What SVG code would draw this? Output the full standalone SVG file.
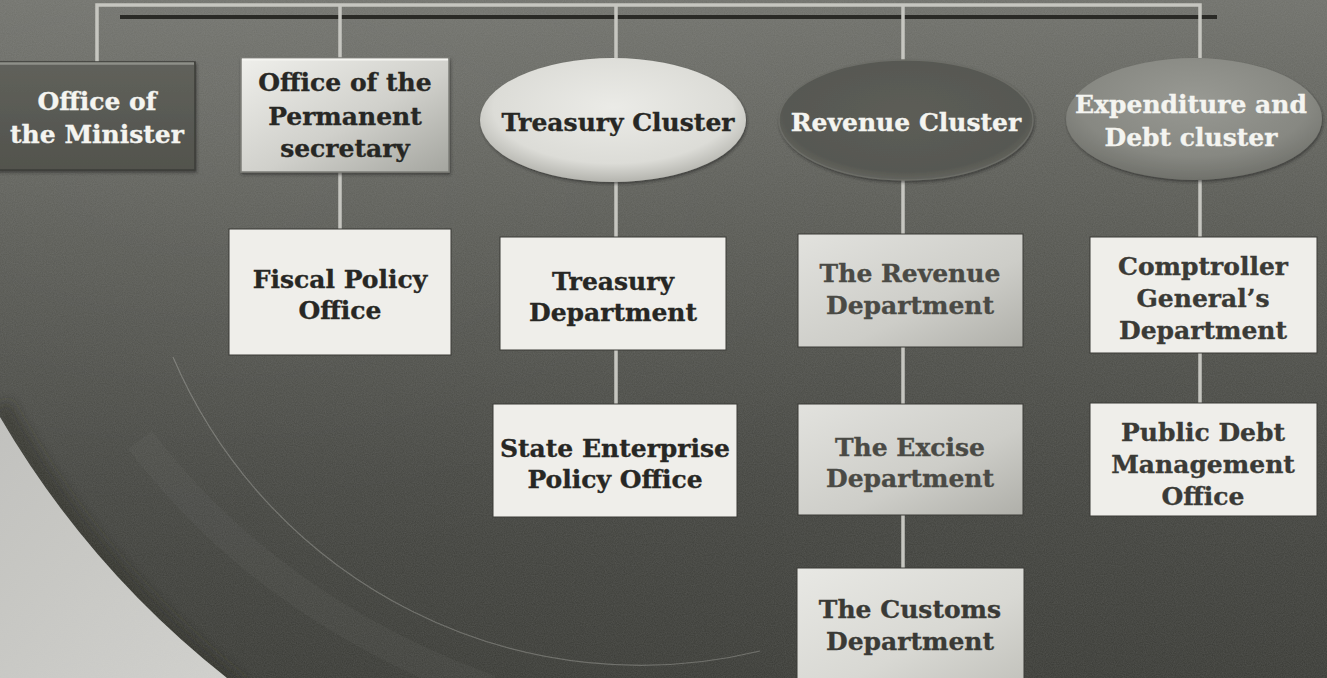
<svg xmlns="http://www.w3.org/2000/svg" width="1327" height="678" viewBox="0 0 1327 678">
  <defs>
    <linearGradient id="bg" x1="0" y1="0" x2="0" y2="1">
      <stop offset="0" stop-color="#6f706a"/>
      <stop offset="0.35" stop-color="#565751"/>
      <stop offset="0.7" stop-color="#43443f"/>
      <stop offset="1" stop-color="#393a35"/>
    </linearGradient>
    <radialGradient id="bgGlow" cx="0.15" cy="0.25" r="0.6">
      <stop offset="0" stop-color="#ffffff" stop-opacity="0.04"/>
      <stop offset="1" stop-color="#ffffff" stop-opacity="0"/>
    </radialGradient>
    <linearGradient id="swoosh" x1="0" y1="0" x2="1" y2="1">
      <stop offset="0" stop-color="#c2c2be"/>
      <stop offset="1" stop-color="#d2d2ce"/>
    </linearGradient>
    <linearGradient id="darkBox" x1="0" y1="0" x2="0" y2="1">
      <stop offset="0" stop-color="#60615b"/>
      <stop offset="1" stop-color="#52534d"/>
    </linearGradient>
    <linearGradient id="lightBevel" x1="0" y1="0" x2="1" y2="1">
      <stop offset="0" stop-color="#efefeb"/>
      <stop offset="0.55" stop-color="#d0d0cb"/>
      <stop offset="1" stop-color="#a4a59f"/>
    </linearGradient>
    <radialGradient id="ellLight" cx="0.5" cy="0.4" r="0.6">
      <stop offset="0" stop-color="#ebebe7"/>
      <stop offset="0.75" stop-color="#dcdcd7"/>
      <stop offset="1" stop-color="#b4b4ae"/>
    </radialGradient>
    <radialGradient id="ellDark" cx="0.5" cy="0.45" r="0.6">
      <stop offset="0" stop-color="#5c5d57"/>
      <stop offset="0.8" stop-color="#575852"/>
      <stop offset="1" stop-color="#6c6d67"/>
    </radialGradient>
    <radialGradient id="ellMid" cx="0.5" cy="0.35" r="0.65">
      <stop offset="0" stop-color="#989993"/>
      <stop offset="0.7" stop-color="#878882"/>
      <stop offset="1" stop-color="#70716b"/>
    </radialGradient>
    <linearGradient id="greyBox" x1="0" y1="0" x2="1" y2="1">
      <stop offset="0" stop-color="#e2e2de"/>
      <stop offset="0.6" stop-color="#cdcdc8"/>
      <stop offset="1" stop-color="#afafa9"/>
    </linearGradient>
    <linearGradient id="greyBox2" x1="0" y1="0" x2="1" y2="1">
      <stop offset="0" stop-color="#e8e8e4"/>
      <stop offset="0.6" stop-color="#d8d8d3"/>
      <stop offset="1" stop-color="#c2c2bc"/>
    </linearGradient>
    <filter id="grain" x="0" y="0" width="100%" height="100%">
      <feTurbulence type="fractalNoise" baseFrequency="0.9" numOctaves="2" seed="3" result="n"/>
      <feColorMatrix in="n" type="matrix" values="0 0 0 0 0.5  0 0 0 0 0.5  0 0 0 0 0.5  0 0 0 0.18 0"/>
    </filter>
    <filter id="soft" x="-20%" y="-20%" width="140%" height="140%">
      <feGaussianBlur stdDeviation="6"/>
    </filter>
    <filter id="shadow" x="-10%" y="-10%" width="125%" height="130%">
      <feDropShadow dx="1" dy="2" stdDeviation="1.5" flood-color="#1e1e1b" flood-opacity="0.55"/>
    </filter>
  </defs>

  <style>
    .lbl { font-family: "DejaVu Serif", "Liberation Serif", serif; font-weight: bold; font-size: 25px; text-anchor: middle; stroke-width: 0.35px; }
    .ink { fill: #272724; stroke: #272724; }
    .inkGrey { fill: #4a4a45; stroke: #4a4a45; }
    .inkSoft { fill: #3a3a36; stroke: #3a3a36; }
    .white { fill: #f4f4f0; stroke: #f4f4f0; }
    .link { fill: none; stroke: #c6c6c0; stroke-width: 3.5; }
    .plain { fill: #efeeea; stroke: #3a3a36; stroke-width: 1; }
  </style>

  <!-- backdrop -->
  <rect x="0" y="0" width="1327" height="678" fill="url(#bg)"/>
  <rect x="0" y="0" width="1327" height="678" fill="url(#bgGlow)"/>
  <!-- faint arcs across the lower half -->
  <path d="M140,440 Q270,610 490,690" fill="none" stroke="#ffffff" stroke-opacity="0.03" stroke-width="30"/>
  <path d="M173,357 A508,508 0 0,0 760,651" fill="none" stroke="#d8d8d2" stroke-opacity="0.3" stroke-width="1.2"/>
  <!-- curved shadow and light corner -->
  <path d="M0,405 A940,940 0 0,0 240,690" fill="none" stroke="#262622" stroke-opacity="0.55" stroke-width="22" filter="url(#soft)"/>
  <path d="M0,417 A931,931 0 0,0 227,678 L0,678 Z" fill="url(#swoosh)"/>
  <rect x="0" y="0" width="1327" height="678" filter="url(#grain)"/>

  <!-- connectors -->
  <g id="connectors">
    <path d="M120,17 H1217" fill="none" stroke="#2a2a26" stroke-width="4"/>
    <path class="link" d="M97,62 V5 H1200 V58"/>
    <path class="link" d="M340,5 V58"/>
    <path class="link" d="M616,5 V58"/>
    <path class="link" d="M903,5 V60"/>
    <path class="link" d="M340,172 V229"/>
    <path class="link" d="M616,182 V237"/>
    <path class="link" d="M616,350 V404"/>
    <path class="link" d="M903,180 V234"/>
    <path class="link" d="M903,347 V404"/>
    <path class="link" d="M903,515 V568"/>
    <path class="link" d="M1200,180 V237"/>
    <path class="link" d="M1200,353 V403"/>
  </g>

  <!-- top row -->
  <g id="office-minister">
    <rect x="-4" y="62" width="199" height="108" fill="url(#darkBox)" stroke="#3d3e39" stroke-width="1.5" filter="url(#shadow)"/>
    <path d="M-4,63.5 H194" stroke="#8e8f89" stroke-width="2.5"/>
    <text class="lbl white" x="97" y="110">Office of</text>
    <text class="lbl white" x="97" y="143">the Minister</text>
  </g>

  <g id="office-permanent-secretary">
    <rect x="241" y="58" width="208" height="114" fill="url(#lightBevel)" stroke="#7d7e78" stroke-width="1.5" filter="url(#shadow)"/>
    <path d="M242,59.5 H448" stroke="#f6f6f2" stroke-width="2"/>
    <text class="lbl ink" x="345" y="91">Office of the</text>
    <text class="lbl ink" x="345" y="125">Permanent</text>
    <text class="lbl ink" x="345" y="157">secretary</text>
  </g>

  <g id="treasury-cluster">
    <ellipse cx="613" cy="120" rx="133" ry="62" fill="url(#ellLight)" filter="url(#shadow)"/>
    <text class="lbl ink" x="618" y="131">Treasury Cluster</text>
  </g>

  <g id="revenue-cluster">
    <ellipse cx="906" cy="120" rx="127" ry="60" fill="url(#ellDark)" stroke="#6c6d67" stroke-width="1.5" filter="url(#shadow)"/>
    <text class="lbl white" x="906" y="131">Revenue Cluster</text>
  </g>

  <g id="expenditure-debt-cluster">
    <ellipse cx="1194" cy="119" rx="128" ry="61" fill="url(#ellMid)" filter="url(#shadow)"/>
    <text class="lbl white" x="1191" y="113">Expenditure and</text>
    <text class="lbl white" x="1191" y="146">Debt cluster</text>
  </g>

  <!-- permanent secretary branch -->
  <g id="fiscal-policy-office">
    <rect class="plain" x="229" y="229" width="222" height="126"/>
    <text class="lbl ink" x="340" y="288">Fiscal Policy</text>
    <text class="lbl ink" x="340" y="319">Office</text>
  </g>

  <!-- treasury branch -->
  <g id="treasury-department">
    <rect class="plain" x="500" y="237" width="226" height="113"/>
    <text class="lbl ink" x="613" y="290">Treasury</text>
    <text class="lbl ink" x="613" y="321">Department</text>
  </g>

  <g id="state-enterprise-policy-office">
    <rect class="plain" x="493" y="404" width="244" height="113"/>
    <text class="lbl ink" x="615" y="457">State Enterprise</text>
    <text class="lbl ink" x="615" y="488">Policy Office</text>
  </g>

  <!-- revenue branch -->
  <g id="revenue-department">
    <rect x="798" y="234" width="225" height="113" fill="url(#greyBox)" stroke="#3a3a36" stroke-width="1"/>
    <text class="lbl inkGrey" x="910" y="282">The Revenue</text>
    <text class="lbl inkGrey" x="910" y="314">Department</text>
  </g>

  <g id="excise-department">
    <rect x="798" y="404" width="225" height="111" fill="url(#greyBox)" stroke="#3a3a36" stroke-width="1"/>
    <text class="lbl inkGrey" x="910" y="456">The Excise</text>
    <text class="lbl inkGrey" x="910" y="487">Department</text>
  </g>

  <g id="customs-department">
    <rect x="797" y="568" width="227" height="116" fill="url(#greyBox2)" stroke="#3a3a36" stroke-width="1"/>
    <text class="lbl inkSoft" x="910" y="618">The Customs</text>
    <text class="lbl inkSoft" x="910" y="650">Department</text>
  </g>

  <!-- expenditure and debt branch -->
  <g id="comptroller-general-department">
    <rect class="plain" x="1090" y="237" width="227" height="116" fill="#ebeae6"/>
    <text class="lbl inkSoft" x="1203" y="275">Comptroller</text>
    <text class="lbl inkSoft" x="1203" y="307">General’s</text>
    <text class="lbl inkSoft" x="1203" y="339">Department</text>
  </g>

  <g id="public-debt-management-office">
    <rect class="plain" x="1090" y="403" width="227" height="113"/>
    <text class="lbl inkSoft" x="1203" y="441">Public Debt</text>
    <text class="lbl inkSoft" x="1203" y="473">Management</text>
    <text class="lbl inkSoft" x="1203" y="505">Office</text>
  </g>
</svg>
